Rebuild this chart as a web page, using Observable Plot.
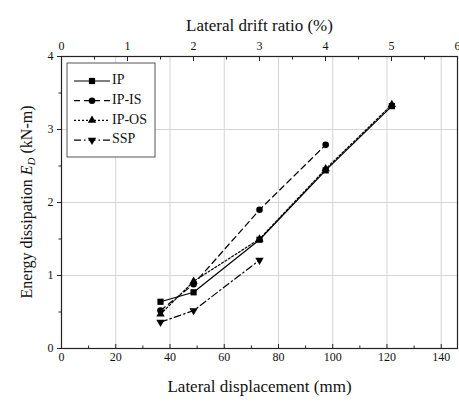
<!DOCTYPE html>
<html>
<head>
<meta charset="utf-8">
<script src="https://cdn.jsdelivr.net/npm/d3@7"></script>
<script src="https://cdn.jsdelivr.net/npm/@observablehq/plot@0.6"></script>
<style>
  html, body { margin: 0; padding: 0; background: #fff; }
  #chart { width: 459px; height: 403px; }
</style>
</head>
<body>
<div id="chart"></div>
<script>
// ---- data ----
const displacement = [36.5, 48.7, 73, 97.4, 121.8]; // mm
const seriesNames = ["IP", "IP-IS", "IP-OS", "SSP"];
const ipValues   = [0.64, 0.77, 1.49, 2.44, 3.32];
const ipisValues = [0.52, 0.88, 1.90, 2.79];
const iposValues = [0.47, 0.92, 1.50, 2.46, 3.34];
const sspValues  = [0.36, 0.52, 1.21];
const xTicks = [0, 20, 40, 60, 80, 100, 120, 140];
const yTicks = [0, 1, 2, 3, 4];
const driftTicks = [0, 1, 2, 3, 4, 5, 6];

const xMax = 146;
const mmPerPct = xMax / 6;

const styles = {
  "IP":    {dash: null,          symbol: "square",   rotate: 0,   r: 3.5},
  "IP-IS": {dash: "6,4",         symbol: "circle",   rotate: 0,   r: 3.3},
  "IP-OS": {dash: "2,2",         symbol: "triangle", rotate: 0,   r: 3.1},
  "SSP":   {dash: "7,3,1.5,3",   symbol: "triangle", rotate: 180, r: 3.1}
};
const allValues = [ipValues, ipisValues, iposValues, sspValues];
const rows = [];
seriesNames.forEach((s, k) => allValues[k].forEach((v, i) => rows.push({series: s, x: displacement[i], y: v})));

const font = "'Liberation Serif', 'DejaVu Serif', serif";
const marks = [
  Plot.gridX(xTicks.slice(1), {stroke: "#d4d4d4", strokeOpacity: 1, strokeWidth: 1}),
  Plot.gridY([1, 2, 3], {stroke: "#d4d4d4", strokeOpacity: 1, strokeWidth: 1}),
];
seriesNames.forEach(s => {
  const st = styles[s];
  const d = rows.filter(r => r.series === s);
  marks.push(Plot.line(d, {x: "x", y: "y", stroke: "#000", strokeWidth: 1.2, strokeDasharray: st.dash}));
  marks.push(Plot.dot(d, {x: "x", y: "y", symbol: st.symbol, r: st.r, rotate: st.rotate, fill: "#000", stroke: "none"}));
});
marks.push(
  Plot.frame({stroke: "#222", strokeWidth: 1.2}),
  // left axis
  Plot.axisY({ticks: yTicks, tickSize: 4, tickPadding: 4, fontSize: 12, label: null, stroke: "#222", tickFormat: d => String(d)}),
  Plot.axisY({ticks: [0.5, 1.5, 2.5, 3.5], tickSize: 2.5, text: null, label: null, stroke: "#222"}),
  // bottom axis
  Plot.axisX({anchor: "bottom", ticks: xTicks, tickSize: -4, text: null, label: null, stroke: "#222"}),
  Plot.axisX({anchor: "bottom", ticks: [10, 30, 50, 70, 90, 110, 130], tickSize: -2.5, text: null, label: null, stroke: "#222"}),
  Plot.axisX({anchor: "bottom", ticks: xTicks, tickSize: 0, tickPadding: 4, fontSize: 12, label: null, tickFormat: d => String(d)}),
  // top axis (drift ratio)
  Plot.axisX({anchor: "top", ticks: driftTicks.map(p => p * mmPerPct), tickSize: -4, text: null, label: null, stroke: "#222"}),
  Plot.axisX({anchor: "top", ticks: driftTicks.slice(0, 6).map(p => (p + 0.5) * mmPerPct), tickSize: -2.5, text: null, label: null, stroke: "#222"}),
  Plot.axisX({anchor: "top", ticks: driftTicks.map(p => p * mmPerPct), tickSize: 0, tickPadding: 7, fontSize: 12, label: null,
              tickFormat: d => String(Math.round(d / mmPerPct))}),
  Plot.text(["Lateral displacement (mm)"], {frameAnchor: "bottom", dy: 43, fontSize: 17, fill: "#111"}),
  Plot.text(["Lateral drift ratio (%)"], {frameAnchor: "top", dy: -38, fontSize: 17, fill: "#111"})
);

const plot = Plot.plot({
  width: 459, height: 403,
  marginLeft: 61, marginRight: 2, marginTop: 56, marginBottom: 55,
  x: {domain: [0, xMax]},
  y: {domain: [0, 4]},
  style: {fontFamily: font, background: "#fff", color: "#111", overflow: "visible"},
  marks
});
document.getElementById("chart").appendChild(plot);

// y-axis title with italic E and subscript D
const svg = d3.select(plot);
const yt = svg.append("text")
  .attr("transform", "translate(28,202) rotate(-90)")
  .attr("text-anchor", "middle")
  .attr("dominant-baseline", "middle")
  .attr("font-family", font).attr("font-size", 16).attr("fill", "#111");
yt.append("tspan").text("Energy dissipation ");
yt.append("tspan").attr("font-style", "italic").text("E");
yt.append("tspan").attr("font-style", "italic").attr("font-size", 11).attr("dy", 4).text("D");
yt.append("tspan").attr("dy", -4).text(" (kN-m)");

// legend box
const lg = svg.append("g").attr("transform", "translate(67,63)");
lg.append("rect").attr("width", 88).attr("height", 94).attr("fill", "#fff").attr("stroke", "#555").attr("stroke-width", 1);
const symMap = {square: d3.symbolSquare, circle: d3.symbolCircle, triangle: d3.symbolTriangle};
seriesNames.forEach((s, i) => {
  const st = styles[s];
  const y = 18 + i * 19.7;
  lg.append("line").attr("x1", 7).attr("x2", 43).attr("y1", y).attr("y2", y)
    .attr("stroke", "#000").attr("stroke-width", 1.2).attr("stroke-dasharray", st.dash);
  lg.append("path").attr("d", d3.symbol(symMap[st.symbol], Math.PI * st.r * st.r)())
    .attr("transform", `translate(25,${y}) rotate(${st.rotate})`).attr("fill", "#000");
  lg.append("text").attr("x", 45).attr("y", y).attr("dominant-baseline", "middle")
    .attr("text-anchor", "start")
    .attr("font-family", font).attr("font-size", 14).attr("fill", "#111").text(s);
});
</script>
</body>
</html>
